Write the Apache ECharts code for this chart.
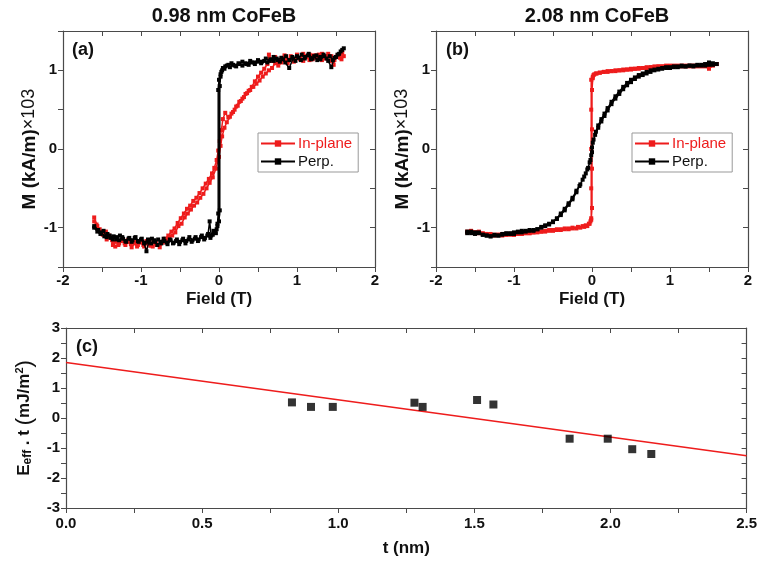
<!DOCTYPE html>
<html>
<head>
<meta charset="utf-8">
<script src="https://cdn.jsdelivr.net/npm/echarts@6/dist/echarts.min.js"></script>
<style>html,body{margin:0;padding:0;background:#fff;}#c{width:760px;height:562px;}</style>
</head>
<body>
<div id="c"></div>
<script>
// ---------- Panel (a): 0.98 nm CoFeB ----------
const aInPlane = [
 [-1.60,-0.87],[-1.56,-0.98],[-1.52,-1.05],[-1.48,-1.08],[-1.44,-1.15],[-1.40,-1.12],[-1.36,-1.22],[-1.32,-1.18],[-1.28,-1.20],[-1.24,-1.15],
 [-1.20,-1.22],[-1.16,-1.18],[-1.12,-1.25],[-1.08,-1.20],[-1.04,-1.22],[-1.00,-1.17],[-0.96,-1.24],[-0.92,-1.20],[-0.88,-1.23],[-0.84,-1.18],
 [-0.80,-1.22],[-0.76,-1.25],[-0.72,-1.19],[-0.68,-1.17],[-0.64,-1.12],[-0.60,-1.10],[-0.56,-1.06],[-0.52,-0.98],[-0.48,-0.95],[-0.44,-0.87],
 [-0.40,-0.82],[-0.36,-0.77],[-0.32,-0.72],[-0.28,-0.68],[-0.24,-0.62],[-0.20,-0.57],[-0.16,-0.50],[-0.12,-0.43],[-0.08,-0.36],[-0.04,-0.25],
 [0.00,-0.10],[0.02,0.04],[0.04,0.16],[0.07,0.27],[0.10,0.34],[0.14,0.41],[0.18,0.47],[0.22,0.54],[0.26,0.60],[0.30,0.64],
 [0.34,0.70],[0.38,0.74],[0.42,0.79],[0.46,0.86],[0.50,0.92],[0.54,0.97],[0.58,1.02],[0.62,1.08],[0.64,1.20],[0.68,1.12],
 [0.72,1.17],[0.76,1.10],[0.80,1.15],[0.84,1.19],[0.88,1.12],[0.92,1.18],[0.96,1.14],[1.00,1.20],[1.04,1.15],[1.08,1.12],
 [1.12,1.18],[1.16,1.20],[1.20,1.14],[1.24,1.19],[1.28,1.16],[1.32,1.21],[1.36,1.15],[1.40,1.18],[1.44,1.12],[1.47,1.07],
 [1.50,1.17],[1.54,1.20],[1.57,1.14],[1.60,1.18],
 [1.58,1.22],[1.55,1.16],[1.52,1.19],[1.48,1.13],[1.44,1.18],[1.40,1.21],[1.36,1.17],[1.32,1.13],[1.28,1.20],[1.24,1.16],
 [1.20,1.19],[1.16,1.13],[1.12,1.17],[1.08,1.21],[1.04,1.14],[1.00,1.17],[0.96,1.11],[0.92,1.15],[0.88,1.09],[0.84,1.13],
 [0.80,1.10],[0.76,1.06],[0.72,1.09],[0.68,1.03],[0.64,1.00],[0.60,0.96],[0.56,0.92],[0.52,0.87],[0.48,0.83],[0.44,0.79],
 [0.40,0.75],[0.36,0.71],[0.32,0.66],[0.28,0.61],[0.24,0.55],[0.20,0.50],[0.16,0.45],[0.12,0.40],[0.08,0.46],[0.05,0.38],
 [0.03,0.24],[0.01,0.10],[-0.01,-0.02],[-0.03,-0.14],[-0.06,-0.24],[-0.09,-0.31],[-0.13,-0.38],[-0.17,-0.44],[-0.21,-0.50],[-0.25,-0.56],
 [-0.29,-0.62],[-0.33,-0.66],[-0.37,-0.72],[-0.41,-0.76],[-0.45,-0.82],[-0.49,-0.88],[-0.53,-0.94],[-0.57,-1.01],[-0.61,-1.05],[-0.65,-1.10],
 [-0.69,-1.14],[-0.73,-1.18],[-0.77,-1.22],[-0.81,-1.19],[-0.85,-1.24],[-0.89,-1.20],[-0.93,-1.17],[-0.97,-1.22],[-1.01,-1.19],[-1.05,-1.24],
 [-1.09,-1.18],[-1.13,-1.21],[-1.17,-1.16],[-1.21,-1.20],[-1.25,-1.17],[-1.29,-1.22],[-1.33,-1.24],[-1.37,-1.16],[-1.41,-1.10],[-1.45,-1.05],
 [-1.49,-1.09],[-1.53,-1.02],[-1.57,-0.96],[-1.60,-0.92]
];
const aPerp = [
 [-1.60,-1.00],[-1.56,-1.05],[-1.52,-1.08],[-1.48,-1.04],[-1.44,-1.12],[-1.40,-1.10],[-1.36,-1.15],[-1.32,-1.12],[-1.28,-1.16],[-1.24,-1.12],
 [-1.20,-1.17],[-1.16,-1.14],[-1.12,-1.18],[-1.08,-1.13],[-1.04,-1.17],[-1.00,-1.15],[-0.96,-1.20],[-0.93,-1.30],[-0.90,-1.18],[-0.86,-1.14],
 [-0.82,-1.18],[-0.78,-1.15],[-0.74,-1.20],[-0.70,-1.17],[-0.66,-1.21],[-0.62,-1.16],[-0.58,-1.19],[-0.54,-1.15],[-0.50,-1.18],[-0.46,-1.14],
 [-0.42,-1.17],[-0.38,-1.12],[-0.34,-1.16],[-0.30,-1.12],[-0.26,-1.15],[-0.22,-1.10],[-0.18,-1.13],[-0.14,-1.08],[-0.12,-0.92],[-0.10,-1.10],
 [-0.07,-1.04],[-0.04,-1.07],[-0.02,-0.98],[0.00,-0.92],[0.01,-0.78],[0.01,0.80],[0.02,0.92],[0.03,0.98],[0.05,1.03],[0.08,1.05],
 [0.12,1.07],[0.16,1.09],[0.20,1.06],[0.25,1.09],[0.30,1.11],[0.35,1.08],[0.40,1.12],[0.45,1.10],[0.50,1.13],[0.55,1.11],
 [0.60,1.15],[0.65,1.12],[0.70,1.17],[0.75,1.13],[0.80,1.16],[0.85,1.10],[0.90,1.03],[0.95,1.15],[1.00,1.18],[1.05,1.13],
 [1.10,1.17],[1.15,1.21],[1.20,1.15],[1.25,1.19],[1.30,1.14],[1.35,1.18],[1.40,1.12],[1.44,1.04],[1.48,1.16],[1.52,1.20],
 [1.56,1.24],[1.60,1.28],
 [1.58,1.26],[1.54,1.21],[1.50,1.17],[1.46,1.13],[1.42,1.18],[1.38,1.15],[1.34,1.20],[1.30,1.17],[1.26,1.13],[1.22,1.18],
 [1.18,1.14],[1.14,1.19],[1.10,1.15],[1.06,1.20],[1.02,1.16],[0.98,1.12],[0.94,1.17],[0.90,1.13],[0.86,1.18],[0.82,1.14],
 [0.78,1.11],[0.74,1.15],[0.70,1.12],[0.66,1.14],[0.62,1.10],[0.58,1.12],[0.54,1.09],[0.50,1.11],[0.46,1.08],[0.42,1.10],
 [0.38,1.07],[0.34,1.09],[0.30,1.06],[0.26,1.08],[0.22,1.05],[0.18,1.07],[0.14,1.04],[0.10,1.06],[0.07,1.02],[0.04,1.00],
 [0.02,0.95],[0.00,0.88],[-0.01,0.75],[-0.01,-0.82],[-0.02,-0.95],[-0.03,-1.02],[-0.05,-1.06],[-0.08,-1.09],[-0.11,-1.13],[-0.15,-1.10],
 [-0.19,-1.15],[-0.23,-1.12],[-0.27,-1.17],[-0.31,-1.14],[-0.35,-1.18],[-0.39,-1.15],[-0.43,-1.20],[-0.47,-1.16],[-0.51,-1.21],[-0.55,-1.17],
 [-0.59,-1.20],[-0.63,-1.15],[-0.67,-1.19],[-0.71,-1.14],[-0.75,-1.18],[-0.79,-1.22],[-0.83,-1.16],[-0.87,-1.20],[-0.91,-1.15],[-0.95,-1.19],
 [-0.99,-1.14],[-1.03,-1.18],[-1.07,-1.12],[-1.11,-1.16],[-1.15,-1.13],[-1.19,-1.18],[-1.23,-1.14],[-1.27,-1.10],[-1.31,-1.15],[-1.35,-1.11],
 [-1.39,-1.13],[-1.43,-1.08],[-1.47,-1.11],[-1.51,-1.06],[-1.55,-1.03],[-1.60,-0.98]
];
// ---------- Panel (b): 2.08 nm CoFeB ----------
const bInPlane = [
 [-1.60,-1.05],[-1.55,-1.04],[-1.50,-1.06],[-1.45,-1.05],[-1.40,-1.07],[-1.35,-1.08],[-1.30,-1.08],[-1.25,-1.09],[-1.20,-1.09],[-1.15,-1.08],
 [-1.10,-1.09],[-1.05,-1.08],[-1.00,-1.09],[-0.95,-1.08],[-0.90,-1.08],[-0.85,-1.07],[-0.80,-1.07],[-0.75,-1.06],[-0.70,-1.06],[-0.65,-1.05],
 [-0.60,-1.05],[-0.55,-1.04],[-0.50,-1.04],[-0.45,-1.03],[-0.40,-1.03],[-0.35,-1.02],[-0.30,-1.02],[-0.25,-1.01],[-0.20,-1.01],[-0.15,-1.00],
 [-0.10,-0.99],[-0.06,-0.98],[-0.03,-0.95],[-0.01,-0.90],[0.00,-0.75],[0.00,-0.25],[0.00,0.25],[0.00,0.75],[0.01,0.90],[0.02,0.94],
 [0.05,0.96],[0.10,0.97],[0.15,0.98],[0.20,0.99],[0.25,0.99],[0.30,1.00],[0.35,1.00],[0.40,1.01],[0.45,1.01],[0.50,1.02],
 [0.55,1.02],[0.60,1.03],[0.65,1.03],[0.70,1.04],[0.75,1.04],[0.80,1.05],[0.85,1.05],[0.90,1.05],[0.95,1.05],[1.00,1.06],
 [1.05,1.05],[1.10,1.06],[1.15,1.05],[1.20,1.06],[1.25,1.05],[1.30,1.06],[1.35,1.05],[1.40,1.06],[1.45,1.05],[1.50,1.02],
 [1.55,1.06],[1.60,1.08],
 [1.55,1.07],[1.50,1.06],[1.45,1.06],[1.40,1.05],[1.35,1.06],[1.30,1.05],[1.25,1.06],[1.20,1.05],[1.15,1.06],[1.10,1.05],
 [1.05,1.06],[1.00,1.05],[0.95,1.06],[0.90,1.05],[0.85,1.05],[0.80,1.04],[0.75,1.04],[0.70,1.03],[0.65,1.03],[0.60,1.02],
 [0.55,1.02],[0.50,1.01],[0.45,1.01],[0.40,1.00],[0.35,1.00],[0.30,0.99],[0.25,0.99],[0.20,0.98],[0.15,0.98],[0.10,0.97],
 [0.06,0.96],[0.03,0.95],[0.01,0.92],[-0.01,0.88],[-0.01,0.50],[-0.01,0.00],[-0.01,-0.50],[-0.01,-0.88],[-0.02,-0.92],[-0.04,-0.95],
 [-0.08,-0.97],[-0.12,-0.98],[-0.18,-0.99],[-0.25,-1.00],[-0.30,-1.01],[-0.35,-1.01],[-0.40,-1.02],[-0.45,-1.02],[-0.50,-1.03],[-0.55,-1.03],
 [-0.60,-1.04],[-0.65,-1.05],[-0.70,-1.05],[-0.75,-1.06],[-0.80,-1.07],[-0.85,-1.07],[-0.90,-1.08],[-0.95,-1.08],[-1.00,-1.09],[-1.05,-1.09],
 [-1.10,-1.09],[-1.15,-1.10],[-1.20,-1.09],[-1.25,-1.10],[-1.30,-1.09],[-1.35,-1.08],[-1.40,-1.08],[-1.45,-1.07],[-1.50,-1.06],[-1.55,-1.05],
 [-1.60,-1.06]
];
const bPerp = [
 [-1.60,-1.07],[-1.55,-1.05],[-1.50,-1.08],[-1.45,-1.06],[-1.40,-1.09],[-1.35,-1.10],[-1.30,-1.11],[-1.25,-1.09],[-1.20,-1.10],[-1.15,-1.08],
 [-1.10,-1.07],[-1.05,-1.08],[-1.00,-1.06],[-0.95,-1.05],[-0.90,-1.04],[-0.85,-1.04],[-0.80,-1.03],[-0.75,-1.03],[-0.70,-1.02],[-0.65,-0.99],
 [-0.60,-0.97],[-0.55,-0.95],[-0.50,-0.92],[-0.45,-0.88],[-0.40,-0.82],[-0.35,-0.76],[-0.30,-0.69],[-0.25,-0.62],[-0.20,-0.53],[-0.15,-0.45],
 [-0.10,-0.35],[-0.06,-0.26],[-0.03,-0.17],[-0.01,-0.08],[0.00,0.02],[0.02,0.12],[0.05,0.22],[0.08,0.30],[0.12,0.38],[0.16,0.45],
 [0.20,0.52],[0.25,0.60],[0.30,0.67],[0.35,0.73],[0.40,0.79],[0.45,0.84],[0.50,0.88],[0.55,0.91],[0.60,0.94],[0.65,0.96],
 [0.70,0.98],[0.75,1.00],[0.80,1.01],[0.85,1.02],[0.90,1.03],[0.95,1.04],[1.00,1.04],[1.05,1.05],[1.10,1.05],[1.15,1.06],
 [1.20,1.05],[1.25,1.06],[1.30,1.06],[1.35,1.07],[1.40,1.06],[1.45,1.08],[1.50,1.10],[1.55,1.07],[1.60,1.08],
 [1.55,1.09],[1.50,1.07],[1.45,1.06],[1.40,1.07],[1.35,1.06],[1.30,1.05],[1.25,1.06],[1.20,1.05],[1.15,1.05],[1.10,1.04],
 [1.05,1.04],[1.00,1.03],[0.95,1.03],[0.90,1.02],[0.85,1.01],[0.80,1.00],[0.75,0.98],[0.70,0.96],[0.65,0.94],[0.60,0.92],
 [0.55,0.89],[0.50,0.85],[0.45,0.81],[0.40,0.76],[0.35,0.70],[0.30,0.64],[0.25,0.57],[0.20,0.49],[0.16,0.42],[0.12,0.35],
 [0.08,0.27],[0.04,0.18],[0.01,0.08],[0.00,-0.04],[-0.02,-0.14],[-0.05,-0.24],[-0.08,-0.31],[-0.12,-0.39],[-0.16,-0.47],[-0.20,-0.55],
 [-0.25,-0.64],[-0.30,-0.71],[-0.35,-0.78],[-0.40,-0.84],[-0.45,-0.89],[-0.50,-0.93],[-0.55,-0.96],[-0.60,-0.98],[-0.65,-1.00],[-0.70,-1.02],
 [-0.75,-1.04],[-0.80,-1.04],[-0.85,-1.05],[-0.90,-1.06],[-0.95,-1.06],[-1.00,-1.08],[-1.05,-1.07],[-1.10,-1.08],[-1.15,-1.09],[-1.20,-1.10],
 [-1.25,-1.10],[-1.30,-1.11],[-1.35,-1.10],[-1.40,-1.09],[-1.45,-1.07],[-1.50,-1.06],[-1.55,-1.07],[-1.60,-1.05]
];
// ---------- Panel (c): Eeff·t vs t ----------
const cThickness = [0.83, 0.90, 0.98, 1.28, 1.31, 1.51, 1.57, 1.85, 1.99, 2.08, 2.15];
const cEnergy    = [0.52, 0.37, 0.37, 0.51, 0.37, 0.60, 0.45, -0.69, -0.69, -1.04, -1.20];
const fitX = [0, 2.5];
const fitY = [1.85, -1.26];

const titlesAB = ['0.98 nm CoFeB', '2.08 nm CoFeB'];
const panelLabels = ['(a)', '(b)', '(c)'];
const seriesNames = ['In-plane', 'Perp.'];

const RED = '#ee1c1c', BLACK = '#000000', AXIS = '#4a4a4a';
const FONT = '"Liberation Sans", Arial, sans-serif';

function baseAxis(extra) {
  return Object.assign({
    type: 'value',
    axisLine: { show: true, onZero: false, lineStyle: { color: AXIS, width: 1.2 } },
    splitLine: { show: false },
    axisTick: { show: true, inside: false, length: 5, lineStyle: { color: AXIS } },
    minorTick: { show: false },
    axisLabel: { color: '#111', fontFamily: FONT, fontWeight: 'bold', fontSize: 15, margin: 6 },
    nameTextStyle: { color: '#111', fontFamily: FONT, fontWeight: 'bold', fontSize: 17 }
  }, extra);
}
function mirrorAxis(extra) {
  return Object.assign({
    type: 'value',
    axisLine: { show: true, onZero: false, lineStyle: { color: AXIS, width: 1.2 } },
    splitLine: { show: false },
    axisTick: { show: true, inside: true, length: 5, lineStyle: { color: AXIS } },
    axisLabel: { show: false }
  }, extra);
}
const halfFmt = v => (Math.abs(v - Math.round(v)) < 1e-6 ? String(Math.round(v)) : '');
const dec1 = v => v.toFixed(1);

const xAxes = [], yAxes = [];
[0, 1].forEach(g => {
  xAxes.push(baseAxis({ gridIndex: g, min: -2, max: 2, interval: 1, position: 'bottom',
    minorTick: { show: true, splitNumber: 2, length: 5, lineStyle: { color: AXIS } },
    name: 'Field (T)', nameLocation: 'middle', nameGap: 24 }));
  xAxes.push(mirrorAxis({ gridIndex: g, min: -2, max: 2, interval: 0.5, position: 'top' }));
  yAxes.push(baseAxis({ gridIndex: g, min: -1.5, max: 1.5, interval: 0.5, position: 'left',
    axisLabel: { color: '#111', fontFamily: FONT, fontWeight: 'bold', fontSize: 15, margin: 6, formatter: halfFmt },
    name: '{b|M (kA/m)}{n|×103}', nameLocation: 'middle', nameRotate: 90, nameGap: 24,
    nameTextStyle: { rich: {
      b: { fontFamily: FONT, fontWeight: 'bold', fontSize: 19, color: '#111' },
      n: { fontFamily: FONT, fontWeight: 'normal', fontSize: 18, color: '#111' } } } }));
  yAxes.push(mirrorAxis({ gridIndex: g, min: -1.5, max: 1.5, interval: 0.5, position: 'right' }));
});
xAxes.push(baseAxis({ gridIndex: 2, min: 0, max: 2.5, interval: 0.5, position: 'bottom',
  minorTick: { show: true, splitNumber: 2, length: 5, lineStyle: { color: AXIS } },
  axisLabel: { color: '#111', fontFamily: FONT, fontWeight: 'bold', fontSize: 15, margin: 8, formatter: dec1 },
  name: 't (nm)', nameLocation: 'middle', nameGap: 32 }));
xAxes.push(mirrorAxis({ gridIndex: 2, min: 0, max: 2.5, interval: 0.25, position: 'top' }));
yAxes.push(baseAxis({ gridIndex: 2, min: -3, max: 3, interval: 1, position: 'left',
  minorTick: { show: true, splitNumber: 2, length: 5, lineStyle: { color: AXIS } },
  name: '{b|E}{s|eff}{b| . t }{p|(}{b|mJ/m}{u|2}{p|)}', nameLocation: 'middle', nameRotate: 90, nameGap: 29,
  nameTextStyle: { rich: {
    b: { fontFamily: FONT, fontWeight: 'bold', fontSize: 17, color: '#111' },
    s: { fontFamily: FONT, fontWeight: 'bold', fontSize: 12, color: '#111', padding: [6, 0, 0, 0] },
    p: { fontFamily: FONT, fontWeight: 'normal', fontSize: 22, color: '#111' },
    u: { fontFamily: FONT, fontWeight: 'bold', fontSize: 11, color: '#111', padding: [0, 0, 9, 0] } } } }));
yAxes.push(mirrorAxis({ gridIndex: 2, min: -3, max: 3, interval: 0.5, position: 'right' }));

function loopSeries(name, data, color, xi, yi) {
  return { name, type: 'line', xAxisIndex: xi, yAxisIndex: yi, data,
    symbol: 'rect', symbolSize: 4, showSymbol: true,
    lineStyle: { color, width: 1.5 }, itemStyle: { color }, animation: false, z: name === 'Perp.' ? 3 : 2 };
}

const option = {
  backgroundColor: '#fff',
  animation: false,
  title: [
    { text: titlesAB[0], left: 219, top: 1, textAlign: 'center', textStyle: { fontFamily: FONT, fontWeight: 'bold', fontSize: 20, color: '#111' } },
    { text: titlesAB[1], left: 592, top: 1, textAlign: 'center', textStyle: { fontFamily: FONT, fontWeight: 'bold', fontSize: 20, color: '#111' } },
    { text: panelLabels[0], left: 67, top: 36, textStyle: { fontFamily: FONT, fontWeight: 'bold', fontSize: 18, color: '#111' } },
    { text: panelLabels[1], left: 441, top: 36, textStyle: { fontFamily: FONT, fontWeight: 'bold', fontSize: 18, color: '#111' } },
    { text: panelLabels[2], left: 71, top: 333, textStyle: { fontFamily: FONT, fontWeight: 'bold', fontSize: 18, color: '#111' } }
  ],
  grid: [
    { left: 63, top: 31, width: 312, height: 236 },
    { left: 436, top: 31, width: 312, height: 236 },
    { left: 66, top: 328, width: 682, height: 180 }
  ],
  legend: [
    { left: 258, top: 133, orient: 'vertical', itemGap: 3, itemWidth: 34, itemHeight: 8,
      backgroundColor: '#fff', borderColor: '#999', borderWidth: 1, padding: [3, 6, 3, 2],
      data: [{ name: seriesNames[0], textStyle: { color: RED } }, { name: seriesNames[1], textStyle: { color: '#111' } }],
      textStyle: { fontFamily: FONT, fontSize: 15, padding: [0, 0, 0, -2] }, selectedMode: false },
    { left: 632, top: 133, orient: 'vertical', itemGap: 3, itemWidth: 34, itemHeight: 8,
      backgroundColor: '#fff', borderColor: '#999', borderWidth: 1, padding: [3, 6, 3, 2],
      data: [{ name: seriesNames[0], textStyle: { color: RED } }, { name: seriesNames[1], textStyle: { color: '#111' } }],
      textStyle: { fontFamily: FONT, fontSize: 15, padding: [0, 0, 0, -2] }, selectedMode: false }
  ],
  xAxis: xAxes,
  yAxis: yAxes,
  series: [
    loopSeries(seriesNames[0], aInPlane, RED, 0, 0),
    loopSeries(seriesNames[1], aPerp, BLACK, 0, 0),
    loopSeries(seriesNames[0], bInPlane, RED, 2, 2),
    loopSeries(seriesNames[1], bPerp, BLACK, 2, 2),
    { name: 'fit', type: 'line', xAxisIndex: 4, yAxisIndex: 4, data: fitX.map((x, i) => [x, fitY[i]]),
      symbol: 'none', lineStyle: { color: RED, width: 1.5 } },
    { name: 'data', type: 'scatter', xAxisIndex: 4, yAxisIndex: 4, data: cThickness.map((x, i) => [x, cEnergy[i]]),
      symbol: 'rect', symbolSize: 8, itemStyle: { color: BLACK }, z: 5 }
  ]
};
echarts.init(document.getElementById('c'), null, { renderer: 'canvas' }).setOption(option);
</script>
</body>
</html>
